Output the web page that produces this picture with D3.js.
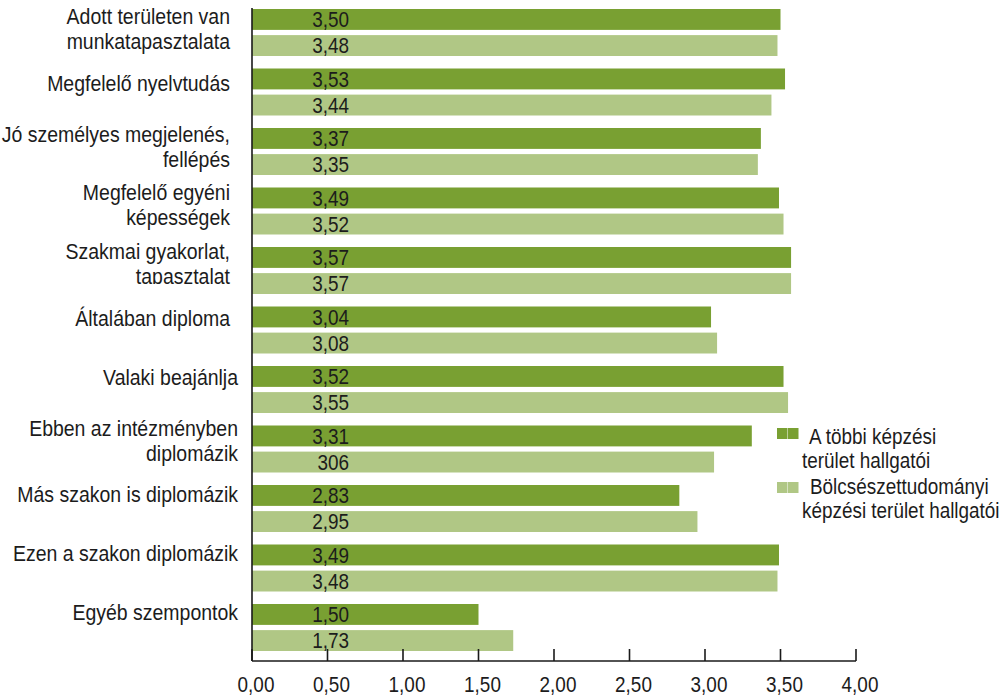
<!DOCTYPE html>
<html>
<head>
<meta charset="utf-8">
<script src="https://cdn.jsdelivr.net/npm/d3@7"></script>
<style>
  html, body { margin: 0; padding: 0; background: #fff; }
  svg { display: block; }
  text { font-family: "Liberation Sans", Arial, sans-serif; fill: #1c1c1c; }
</style>
</head>
<body>
<svg id="chart" width="1002" height="697"></svg>
<script>
// Category labels (each entry is the list of lines it is broken into)
const categories = [
  ["Adott területen van", "munkatapasztalata"],
  ["Megfelelő nyelvtudás"],
  ["Jó személyes megjelenés,", "fellépés"],
  ["Megfelelő egyéni", "képességek"],
  ["Szakmai gyakorlat,", "tapasztalat"],
  ["Általában diploma"],
  ["Valaki beajánlja"],
  ["Ebben az intézményben", "diplomázik"],
  ["Más szakon is diplomázik"],
  ["Ezen a szakon diplomázik"],
  ["Egyéb szempontok"]
];

// Series: mean scores
const seriesNames = [["A többi képzési", "terület hallgatói"], ["Bölcsészettudományi", "képzési terület hallgatói"]];
const otherValues = [3.50, 3.53, 3.37, 3.49, 3.57, 3.04, 3.52, 3.31, 2.83, 3.49, 1.50];
const humValues   = [3.48, 3.44, 3.35, 3.52, 3.57, 3.08, 3.55, 3.06, 2.95, 3.48, 1.73];
// Printed value labels (as they appear on the bars)
const otherLabels = ["3,50", "3,53", "3,37", "3,49", "3,57", "3,04", "3,52", "3,31", "2,83", "3,49", "1,50"];
const humLabels   = ["3,48", "3,44", "3,35", "3,52", "3,57", "3,08", "3,55", "306", "2,95", "3,48", "1,73"];

// Axis ticks
const tickValues = [0, 0.5, 1, 1.5, 2, 2.5, 3, 3.5, 4];
const tickLabels = ["0,00", "0,50", "1,00", "1,50", "2,00", "2,50", "3,00", "3,50", "4,00"];

const colors = { other: "#79a032", hum: "#b0c785" };

const svg = d3.select("#chart");
const fs = 22;

// Draws a horizontally squeezed (condensed-looking) text anchored at (px, py)
function ctext(parent, px, py, str, anchor, squeeze) {
  return parent.append("text")
    .attr("transform", `translate(${px},${py}) scale(${squeeze || 0.86},1)`)
    .attr("text-anchor", anchor || "start")
    .attr("font-size", fs)
    .text(str);
}

const x = d3.scaleLinear().domain([0, 4]).range([252, 856]);
const idx = d3.range(categories.length);
const y = d3.scaleBand().domain(idx).range([4.5, 4.5 + 59.5 * categories.length]).paddingInner(0);
const ySub = d3.scaleBand().domain(["other", "hum"]).range([4.5, 51.5]).paddingInner(0.2);
// Category label positions
const yLabel = d3.scaleLinear().domain([0, 1]).range([31, 31 + 58.8]);
const axisY = 661;

const rows = idx.map(i => ({
  i,
  lines: categories[i],
  bars: [
    { key: "other", value: otherValues[i], label: otherLabels[i] },
    { key: "hum", value: humValues[i], label: humLabels[i] }
  ]
}));

// Bars
const g = svg.append("g");
const row = g.selectAll("g.row").data(rows).join("g")
  .attr("class", "row")
  .attr("transform", d => `translate(0,${y(d.i)})`);

row.selectAll("rect").data(d => d.bars).join("rect")
  .attr("x", x(0))
  .attr("y", d => ySub(d.key))
  .attr("width", d => x(d.value) - x(0))
  .attr("height", ySub.bandwidth())
  .attr("fill", d => colors[d.key]);

row.each(function (d) {
  const r = d3.select(this);
  d.bars.forEach(b => {
    ctext(r, x(0) + 97, ySub(b.key) + ySub.bandwidth() / 2 + fs * 0.36, b.label, "end");
  });
});

// Clip for the category labels (the fifth label's last line is cut at its lower edge)
const defs = svg.append("defs");
defs.append("clipPath").attr("id", "clip5")
  .append("rect").attr("x", 0).attr("y", 0).attr("width", 250).attr("height", 284);

const labG = svg.append("g");
rows.forEach(d => {
  const mid = yLabel(d.i);
  const anchorX = d.i < 6 ? 230 : 238;
  const wrap = labG.append("g");
  if (d.i === 4) wrap.attr("clip-path", "url(#clip5)");
  if (d.lines.length === 1) {
    ctext(wrap, anchorX, mid + 1, d.lines[0], "end", 0.885);
  } else {
    d.lines.forEach((ln, k) => ctext(wrap, anchorX, mid - 7 + k * 25, ln, "end", 0.885));
  }
});

// Axes
const ax = svg.append("g").attr("stroke", "#1a1a1a").attr("stroke-width", 1.6);
ax.append("line").attr("x1", x(0)).attr("x2", x(0)).attr("y1", 8).attr("y2", axisY);
ax.append("line").attr("x1", x(0)).attr("x2", x(4)).attr("y1", axisY).attr("y2", axisY);
ax.selectAll("line.tick").data(tickValues).join("line")
  .attr("class", "tick")
  .attr("x1", d => x(d)).attr("x2", d => x(d))
  .attr("y1", axisY - 12).attr("y2", axisY);

const tickG = svg.append("g");
tickValues.forEach((v, i) => ctext(tickG, x(v) + 4, 692, tickLabels[i], "middle"));

// Legend
const legend = svg.append("g");
const legendItems = [
  { key: "other", y: 428, lines: [[seriesNames[0][0], 809, 444], [seriesNames[0][1], 802, 468]] },
  { key: "hum", y: 482, lines: [[seriesNames[1][0], 810, 494], [seriesNames[1][1], 802, 518]] }
];
legendItems.forEach(it => {
  [777, 788].forEach(px => {
    legend.append("rect").attr("x", px).attr("y", it.y).attr("width", 10.5).attr("height", 11)
      .attr("fill", colors[it.key]);
  });
  it.lines.forEach(([txt, lx, ly]) => ctext(legend, lx, ly, txt, "start"));
});
</script>
</body>
</html>
